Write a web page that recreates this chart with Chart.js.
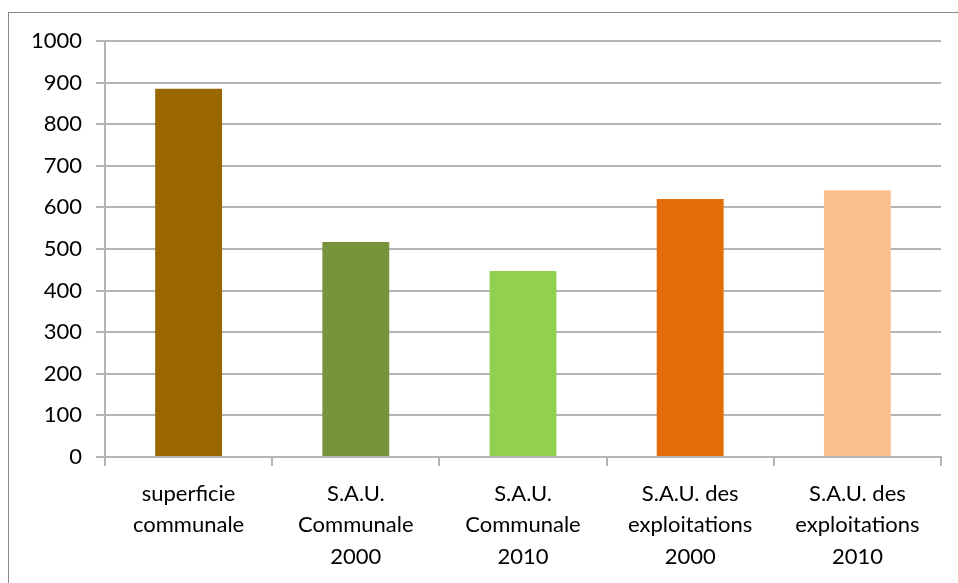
<!DOCTYPE html>
<html><head><meta charset="utf-8">
<script src="https://cdn.jsdelivr.net/npm/chart.js@4/dist/chart.umd.min.js"></script>
<style>
html,body{margin:0;padding:0;background:#fff;overflow:hidden}
#wrap{position:relative;width:958px;height:583px}
#frame{position:absolute;left:8px;top:12px;width:1200px;height:800px;border:1.5px solid #8a8a8a;box-sizing:border-box}
canvas{position:absolute;left:0;top:0}
</style></head>
<body><div id="wrap"><div id="frame"></div><canvas id="c" width="958" height="583"></canvas></div>
<script>
const categories = [
  ["superficie","communale"],
  ["S.A.U.","Communale","2000"],
  ["S.A.U.","Communale","2010"],
  ["S.A.U. des","exploitations","2000"],
  ["S.A.U. des","exploitations","2010"]
];
const values = [885, 517, 447, 620, 641];
const barColors = ["#996600","#77933C","#92D050","#E46C0A","#FAC090"];
const yMin = 0, yMax = 1000, yStep = 100;

new Chart(document.getElementById('c'), {
  type: 'bar',
  data: { labels: categories, datasets: [{ data: values, backgroundColor: barColors, borderWidth: 0, barPercentage: 0.4, categoryPercentage: 1.0 }] },
  options: {
    responsive: false, animation: false,
    layout: { padding: { left: 0, right: 17, top: 41, bottom: 0 } },
    plugins: { legend: { display: false }, tooltip: { enabled: false } },
    scales: {
      y: {
        min: yMin, max: yMax,
        ticks: { stepSize: yStep, color: '#000', font: { family: 'Lato', size: 22 }, padding: 14, callback: v => String(v) },
        grid: { color: '#b4b4b4', lineWidth: 2, tickLength: 9, drawTicks: true },
        border: { display: true, color: '#b4b4b4', width: 2 },
        afterFit: s => { s.width = 105; }
      },
      x: {
        ticks: { color: '#000', font: { family: 'Lato', size: 22, lineHeight: 1.43 }, padding: 12, maxRotation: 0, autoSkip: false },
        grid: { display: true, drawOnChartArea: false, drawTicks: true, tickLength: 9, color: '#b4b4b4', lineWidth: 2, offset: true },
        border: { display: true, color: '#b4b4b4', width: 2 },
        afterFit: s => { s.height = 126; }
      }
    }
  }
});
</script></body></html>
